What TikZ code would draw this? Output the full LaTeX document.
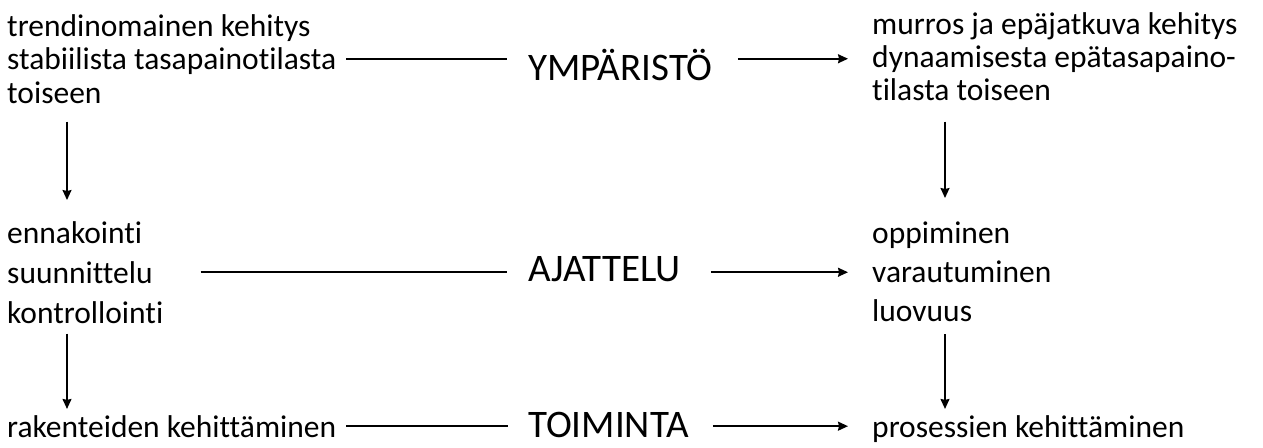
\documentclass[tikz,border=0pt]{standalone}
\usepackage{fontspec}
\setmainfont{Carlito}[Ligatures=NoCommon]
\usetikzlibrary{arrows.meta}
\begin{document}
\begin{tikzpicture}[x=1pt, y=-1pt,
  block/.style={align=left, inner sep=0pt, anchor=north west},
  line/.style={inner sep=0pt, anchor=base west, font=\fontsize{31.5}{31.5}\selectfont},
  key/.style={inner sep=0pt, anchor=base west, font=\fontsize{39}{39}\selectfont},
  link/.style={line width=1.7pt},
  arr/.style={line width=1.6pt, -{Stealth[length=10pt, width=9pt, inset=1pt]}}]
\useasboundingbox (0,0) rectangle (1263,447);
\node[block, font=\fontsize{31.5}{33.5}\selectfont] (envL) at (7,14){trendinomainen kehitys\\stabiilista tasapainotilasta\\toiseen};
\node[key] (ymp) at (528,80){YMPÄRISTÖ};
\node[block, font=\fontsize{31.5}{33}\selectfont] (envR) at (872,12){murros ja epäjatkuva kehitys\\dynaamisesta epätasapaino-\\tilasta toiseen};
\draw[link]([xshift=10]envL.east) -- ([xshift=-21]envL.east -| ymp.west);
\draw[arr]([xshift=25]envL.east -| ymp.east) -- ([xshift=-24]envL.east -| envR.west);
\node[block, font=\fontsize{31.5}{40}\selectfont] (thinkL) at (7,221){ennakointi\\suunnittelu\\kontrollointi};
\node[key] (ajat) at (528,281){AJATTELU};
\node[block, font=\fontsize{31.5}{39}\selectfont] (thinkR) at (872,222){oppiminen\\varautuminen\\luovuus};
\draw[link]([xshift=37]thinkL.east) -- ([xshift=-21]thinkL.east -| ajat.west);
\draw[arr]([xshift=30]thinkL.east -| ajat.east) -- ([xshift=-24]thinkL.east -| thinkR.west);
\node[line] (actL) at (7,437){rakenteiden kehittäminen};
\node[key] (toim) at (528,437){TOIMINTA};
\node[line] (actR) at (872,437){prosessien kehittäminen};
\draw[link]([xshift=10]actL.east) -- ([xshift=-20]actL.east -| toim.west);
\draw[arr]([xshift=24]actL.east -| toim.east) -- ([xshift=-24]actL.east -| actR.west);
\draw[arr, shorten <=18pt, shorten >=21pt]([xshift=60]envL.south west) -- ([xshift=60]thinkL.north west);
\draw[arr, shorten <=10pt, shorten >=6pt]([xshift=60]thinkL.south west) -- ([xshift=60]actL.north west);
\draw[arr, shorten <=21pt, shorten >=24pt]([xshift=73]envR.south west) -- ([xshift=73]thinkR.north west);
\draw[arr, shorten <=12pt, shorten >=6pt]([xshift=73]thinkR.south west) -- ([xshift=73]actR.north west);
\end{tikzpicture}
\end{document}
